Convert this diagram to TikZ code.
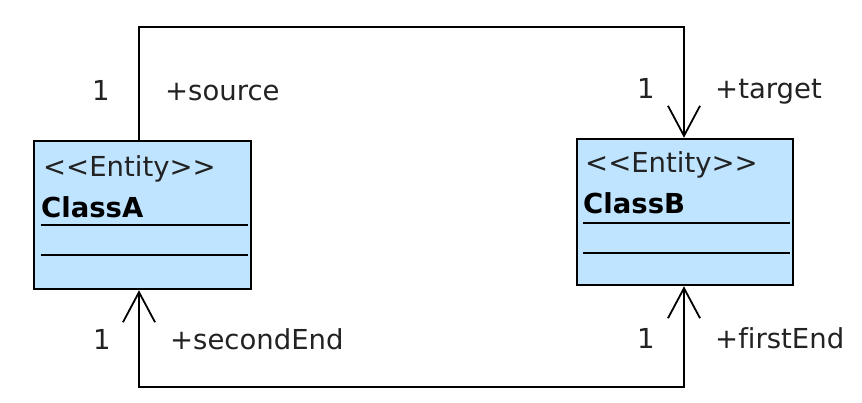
\documentclass[tikz,border=0pt]{standalone}
\usepackage{fontspec}
\setmainfont{DejaVu Sans}[Ligatures=NoCommon]
\usetikzlibrary{arrows.meta}

\definecolor{entityblue}{RGB}{191,228,255}
\definecolor{labelgrey}{RGB}{34,34,34}

\begin{document}
\begin{tikzpicture}[x=1pt,y=-1pt]

        \useasboundingbox (0,0) rectangle (862,402);

        \begin{scope}[every node/.style={draw=black, line width=2.5pt, fill=entityblue, inner sep=0pt}]
          \node[minimum width=217pt, minimum height=148pt] (A) at (142.5,215) {};
          \node[minimum width=216pt, minimum height=146pt] (B) at (685,212)   {};
        \end{scope}

        \begin{scope}[line width=1.8pt]
          \draw (41,225)  -- (248,225);
          \draw (41,255)  -- (248,255);
          \draw (583,223) -- (790,223);
          \draw (583,253) -- (790,253);
        \end{scope}

        \begin{scope}[every node/.style={anchor=base west, inner sep=0pt, font=\fontsize{27.5}{32}\selectfont, text=labelgrey}]
          \node (As) at (43,176)  {<{}<Entity>{}>};
          \node (An) at (41,217)  {\bfseries\color{black}ClassA};
          \node (Bs) at (585,172) {<{}<Entity>{}>};
          \node (Bn) at (583,213) {\bfseries\color{black}ClassB};

          \node (m1) at (92,100)  {1};
          \node (r1) at (165,100) {+source};
          \node (m2) at (637,98)  {1};
          \node (r2) at (715,98)  {+target};
          \node (m3) at (93,349)  {1};
          \node (r3) at (170,349) {+secondEnd};
          \node (m4) at (637,348) {1};
          \node (r4) at (715,348) {+firstEnd};
        \end{scope}

        \coordinate (top) at (400,27);
        \coordinate (bot) at (400,387);

        \begin{scope}[line width=1.8pt, >={Straight Barb[length=30pt, width=32pt]}]
          \draw[->]  ([xshift=-3.5pt]A.north) |- (top) -| ([xshift=-1pt]B.north);
          \draw[<->] ([xshift=-3.5pt]A.south) |- (bot) -| ([xshift=-1pt]B.south);
        \end{scope}

      \end{tikzpicture}
\end{document}
